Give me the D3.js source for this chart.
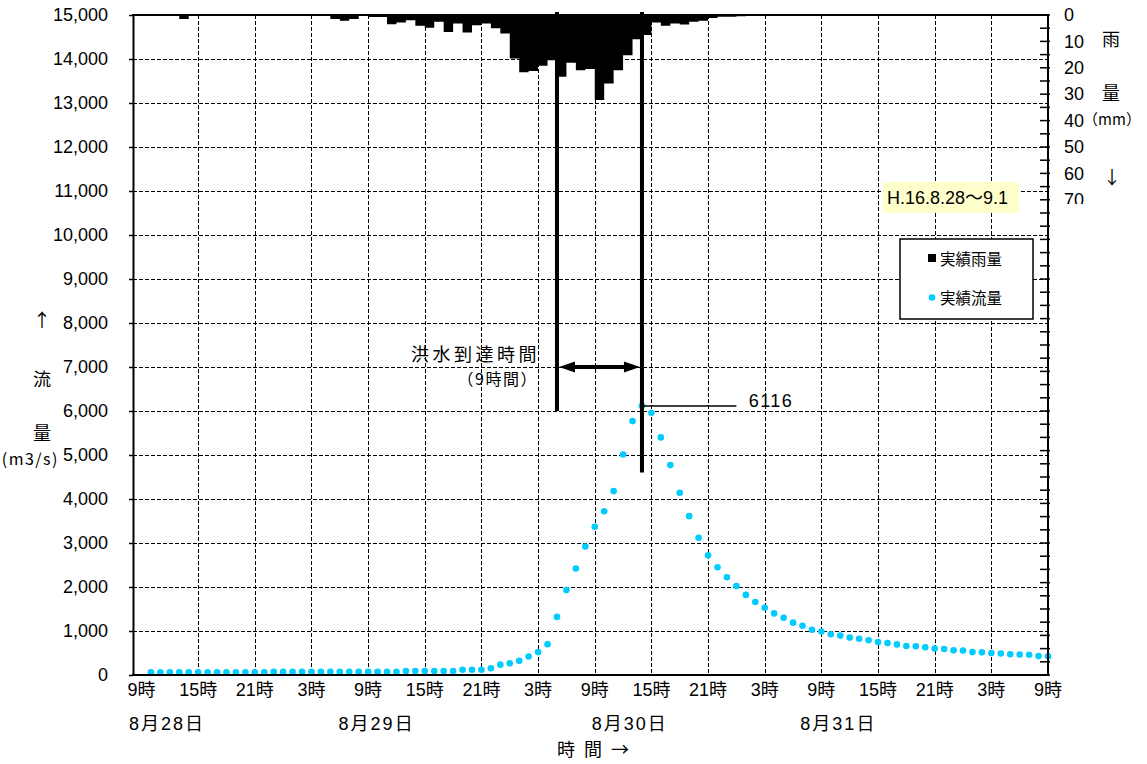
<!DOCTYPE html>
<html><head><meta charset="utf-8">
<script src="https://cdn.jsdelivr.net/npm/d3@7"></script>
<style>body{margin:0;background:#fff}</style>
</head><body>
<script>
// ---------- data ----------
const hours = d3.range(1, 97); // hours after 9時 8/28 (1 = 10時 ... 96 = 9時 9/1)
const flowValues = [
  60,60,60,60,60,60,60,60,60,60,60,60,60,
  70,70,70,70,70,70,70,70,70,70,70,70,70,70,
  90,90,90,90,90,90,
  120,120,120,155,235,265,325,420,520,700,
  1320,1930,2420,2920,3370,3720,4180,5010,5770,6116,
  5960,5400,4770,4140,3610,3120,2720,2450,2220,2020,1820,
  1660,1530,1400,1300,1190,1120,1030,990,925,895,850,825,790,750,725,695,
  660,655,630,600,590,560,555,520,515,500,490,470,465,460,430,425
];
const rainValues = [
  0,0,0,0,1.5,0,0,0,0,0,0,0,0,0,0,0,0,0,0,0,
  1.5,2.2,1.5,0,0.8,0.8,3.5,2.8,2.0,4.1,4.8,2.6,6.4,3.2,6.6,3.9,
  3.2,5.0,7.0,16.5,21.7,21.2,19.2,17.1,23.4,18.1,20.9,20.5,32.2,25.9,20.9,15.2,
  9.2,7.6,2.8,4.1,3.2,3.6,2.6,2.2,1.1,0.7,0.7,0.5,0.3,0.3,0.3,0.3,
  0,0,0,0,0,0,0,0,0,0,0,0,0,0,0,0,0,0,0,0,0,0,0,0,0,0,0,0
];
const flowTicks = d3.range(0, 15001, 1000);
const rainLabelTicks = [0, 10, 20, 30, 40, 50, 60, 70];
const rainMinorTicks = d3.range(0, 251, 5);
const hourTicks = d3.range(0, 97, 6);
const hourLabels = hourTicks.map(h => ((9 + h) % 24) + "時");
const dayLabels = ["8月28日", "8月29日", "8月30日", "8月31日"];
const dayLabelHours = [2.7, 24.9, 51.7, 73.8];
const peakHour = 53, peakValue = 6116;
const arrivalStartHour = 44;
const arrivalStartEndValue = 6000, peakLineEndValue = 4600, arrowValue = 7000;
const legendItems = ["実績雨量", "実績流量"];
const periodText = "H.16.8.28〜9.1";

// ---------- layout ----------
const W = 1147, H = 764;
const L = 133, R = 1048, T = 15, B = 675;
const LAT = "'Liberation Sans', Arial, 'Noto Sans CJK JP', sans-serif";
const JP = "'Noto Sans CJK JP', 'Liberation Sans', sans-serif";
const CYAN = "#00CCFF";

const svg = d3.select("body").append("svg").attr("width", W).attr("height", H)
  .style("background", "#fff");

const x = d3.scaleLinear().domain([-0.9, 96]).range([L, R]);
const yFlow = d3.scaleLinear().domain([0, 15000]).range([B, T]);
const yRain = d3.scaleLinear().domain([0, 250]).range([T, B]);

// gridlines
const grid = svg.append("g").attr("stroke", "#000").attr("stroke-width", 1)
  .attr("stroke-dasharray", "4,2").attr("fill", "none");
grid.selectAll("line.h").data(flowTicks.filter(v => v > 0 && v < 15000)).join("line")
  .attr("x1", L).attr("x2", R)
  .attr("y1", d => Math.round(yFlow(d)) + 0.5).attr("y2", d => Math.round(yFlow(d)) + 0.5);
grid.selectAll("line.v").data(hourTicks.filter(h => h > 0 && h < 96)).join("line")
  .attr("y1", T).attr("y2", B)
  .attr("x1", d => Math.round(x(d)) + 0.5).attr("x2", d => Math.round(x(d)) + 0.5);

// rain bars (hanging from top) as one stepped area
const rainSteps = [];
rainValues.forEach((v, i) => { rainSteps.push({h: hours[i] - 1, v}); rainSteps.push({h: hours[i], v}); });
svg.append("path").datum(rainSteps)
  .attr("d", d3.area().x(d => x(d.h)).y0(yRain(0)).y1(d => yRain(d.v)))
  .attr("fill", "#000");

// flow points
svg.append("g").selectAll("circle").data(flowValues.map((v, i) => ({h: hours[i], v})))
  .join("circle")
  .attr("cx", d => x(d.h)).attr("cy", d => yFlow(d.v)).attr("r", 3.3)
  .attr("fill", CYAN);

// frame
const frame = svg.append("g").attr("stroke", "#000").attr("stroke-width", 2).attr("fill", "none");
frame.append("line").attr("x1", L - 1).attr("x2", R + 1).attr("y1", T).attr("y2", T);
frame.append("line").attr("x1", L - 1).attr("x2", R + 1).attr("y1", B).attr("y2", B);

// left axis
const leftAxis = svg.append("g").attr("transform", `translate(${L},0)`)
  .call(d3.axisLeft(yFlow).tickValues(flowTicks).tickFormat(d3.format(","))
    .tickSize(4).tickSizeOuter(0).tickPadding(21));
leftAxis.select(".domain").attr("stroke-width", 2);
leftAxis.selectAll(".tick line").attr("stroke-width", 1.5);
leftAxis.selectAll("text").attr("font-family", LAT).attr("font-size", 18).attr("fill", "#000");

// right axis
const rightAxis = svg.append("g").attr("transform", `translate(${R},0)`);
rightAxis.append("line").attr("x1", 0).attr("x2", 0).attr("y1", T - 1).attr("y2", B + 1)
  .attr("stroke", "#000").attr("stroke-width", 2);
rightAxis.selectAll("line.t").data(rainMinorTicks).join("line")
  .attr("x1", -8).attr("x2", 2)
  .attr("y1", d => yRain(d)).attr("y2", d => yRain(d))
  .attr("stroke", "#000").attr("stroke-width", 1.5);
svg.append("clipPath").attr("id", "rclip").append("rect")
  .attr("x", 0).attr("y", 0).attr("width", 60).attr("height", 204);
const rlabels = svg.append("g")
  .attr("transform", `translate(${R},0)`)
  .call(d3.axisRight(yRain).tickValues(rainLabelTicks).tickSize(0).tickPadding(16));
rlabels.attr("clip-path", "url(#rclip)");
rlabels.select(".domain").remove();
rlabels.selectAll("text").attr("font-family", LAT).attr("font-size", 18).attr("fill", "#000");

// right axis title
const rt = svg.append("g").attr("font-family", JP).attr("fill", "#000").attr("text-anchor", "middle");
rt.append("text").attr("x", 1111).attr("y", 38).attr("dominant-baseline", "central").attr("font-size", 18).text("雨");
rt.append("text").attr("x", 1111).attr("y", 92).attr("dominant-baseline", "central").attr("font-size", 18).text("量");
rt.append("text").attr("x", 1112).attr("y", 118).attr("dominant-baseline", "central").attr("font-size", 15).text("（mm）");
rt.append("text").attr("x", 1112).attr("y", 176).attr("dominant-baseline", "central").attr("font-size", 18).text("↓");

// left axis title
const lt = svg.append("g").attr("font-family", JP).attr("fill", "#000").attr("text-anchor", "middle");
lt.append("text").attr("x", 42).attr("y", 319).attr("dominant-baseline", "central").attr("font-size", 18).text("↑");
lt.append("text").attr("x", 42).attr("y", 378).attr("dominant-baseline", "central").attr("font-size", 18).text("流");
lt.append("text").attr("x", 42).attr("y", 432).attr("dominant-baseline", "central").attr("font-size", 18).text("量");
lt.append("text").attr("x", 59).attr("y", 458).attr("dominant-baseline", "central").attr("font-size", 16)
  .attr("text-anchor", "end").attr("letter-spacing", 1.5).text("(m3/s)");

// x labels
const xl = svg.append("g").attr("font-family", LAT).attr("fill", "#000").attr("font-size", 18)
  .attr("text-anchor", "middle");
xl.selectAll("text.hr").data(hourTicks).join("text")
  .attr("x", d => x(d)).attr("y", 690).attr("dominant-baseline", "central")
  .text((d, i) => hourLabels[i]);
xl.selectAll("text.day").data(dayLabels).join("text").attr("class", "day")
  .attr("x", (d, i) => x(dayLabelHours[i])).attr("y", 724).attr("dominant-baseline", "central")
  .attr("letter-spacing", 2)
  .text(d => d);
svg.append("text").attr("x", 557).attr("y", 748).attr("dominant-baseline", "central")
  .attr("text-anchor", "start").attr("font-family", JP).attr("font-size", 18)
  .attr("letter-spacing", 9).text("時間→");

// annotations
const ann = svg.append("g").attr("stroke", "#000").attr("fill", "none");
ann.append("line").attr("x1", x(arrivalStartHour)).attr("x2", x(arrivalStartHour))
  .attr("y1", T - 3).attr("y2", yFlow(arrivalStartEndValue)).attr("stroke-width", 4);
ann.append("line").attr("x1", x(peakHour)).attr("x2", x(peakHour))
  .attr("y1", T - 3).attr("y2", yFlow(peakLineEndValue)).attr("stroke-width", 4);
const ay = yFlow(arrowValue);
const ax1 = x(arrivalStartHour) + 2, ax2 = x(peakHour) - 2;
ann.append("line").attr("x1", ax1 + 10).attr("x2", ax2 - 10).attr("y1", ay).attr("y2", ay).attr("stroke-width", 4);
ann.append("path").attr("d", `M${ax1},${ay} L${ax1 + 16},${ay - 5.5} L${ax1 + 16},${ay + 5.5} Z`)
  .attr("fill", "#000").attr("stroke", "none");
ann.append("path").attr("d", `M${ax2},${ay} L${ax2 - 16},${ay - 5.5} L${ax2 - 16},${ay + 5.5} Z`)
  .attr("fill", "#000").attr("stroke", "none");
ann.append("line").attr("x1", x(peakHour)).attr("x2", x(63))
  .attr("y1", yFlow(peakValue)).attr("y2", yFlow(peakValue)).attr("stroke-width", 1.5);
svg.append("text").attr("x", x(64.3)).attr("y", yFlow(peakValue) - 5).attr("dominant-baseline", "central")
  .attr("font-family", LAT).attr("font-size", 18).attr("letter-spacing", 1.5).text(String(peakValue));
svg.append("text").attr("x", x(arrivalStartHour) - 17).attr("y", 353).attr("dominant-baseline", "central")
  .attr("text-anchor", "end").attr("font-family", JP).attr("font-size", 18).attr("letter-spacing", 3.5)
  .text("洪水到達時間");
svg.append("text").attr("x", x(arrivalStartHour) - 19).attr("y", 378).attr("dominant-baseline", "central")
  .attr("text-anchor", "end").attr("font-family", JP).attr("font-size", 16).attr("letter-spacing", 1.5)
  .text("（9時間）");

// period box
svg.append("rect").attr("x", 883).attr("y", 182).attr("width", 136).attr("height", 31).attr("fill", "#FFFFCC");
svg.append("text").attr("x", 887).attr("y", 198).attr("dominant-baseline", "central")
  .attr("font-family", LAT).attr("font-size", 18).attr("fill", "#000").text(periodText);

// legend
const lg = svg.append("g");
lg.append("rect").attr("x", 900).attr("y", 239).attr("width", 133).attr("height", 80)
  .attr("fill", "#fff").attr("stroke", "#000").attr("stroke-width", 1.5);
lg.append("rect").attr("x", 928).attr("y", 254).attr("width", 8).attr("height", 8).attr("fill", "#000");
lg.append("circle").attr("cx", 932).attr("cy", 297.5).attr("r", 3.3).attr("fill", CYAN);
lg.selectAll("text").data(legendItems).join("text")
  .attr("x", 940).attr("y", (d, i) => i === 0 ? 258 : 297).attr("dominant-baseline", "central")
  .attr("font-family", JP).attr("font-size", 15.5).attr("fill", "#000").text(d => d);
</script>
</body></html>
